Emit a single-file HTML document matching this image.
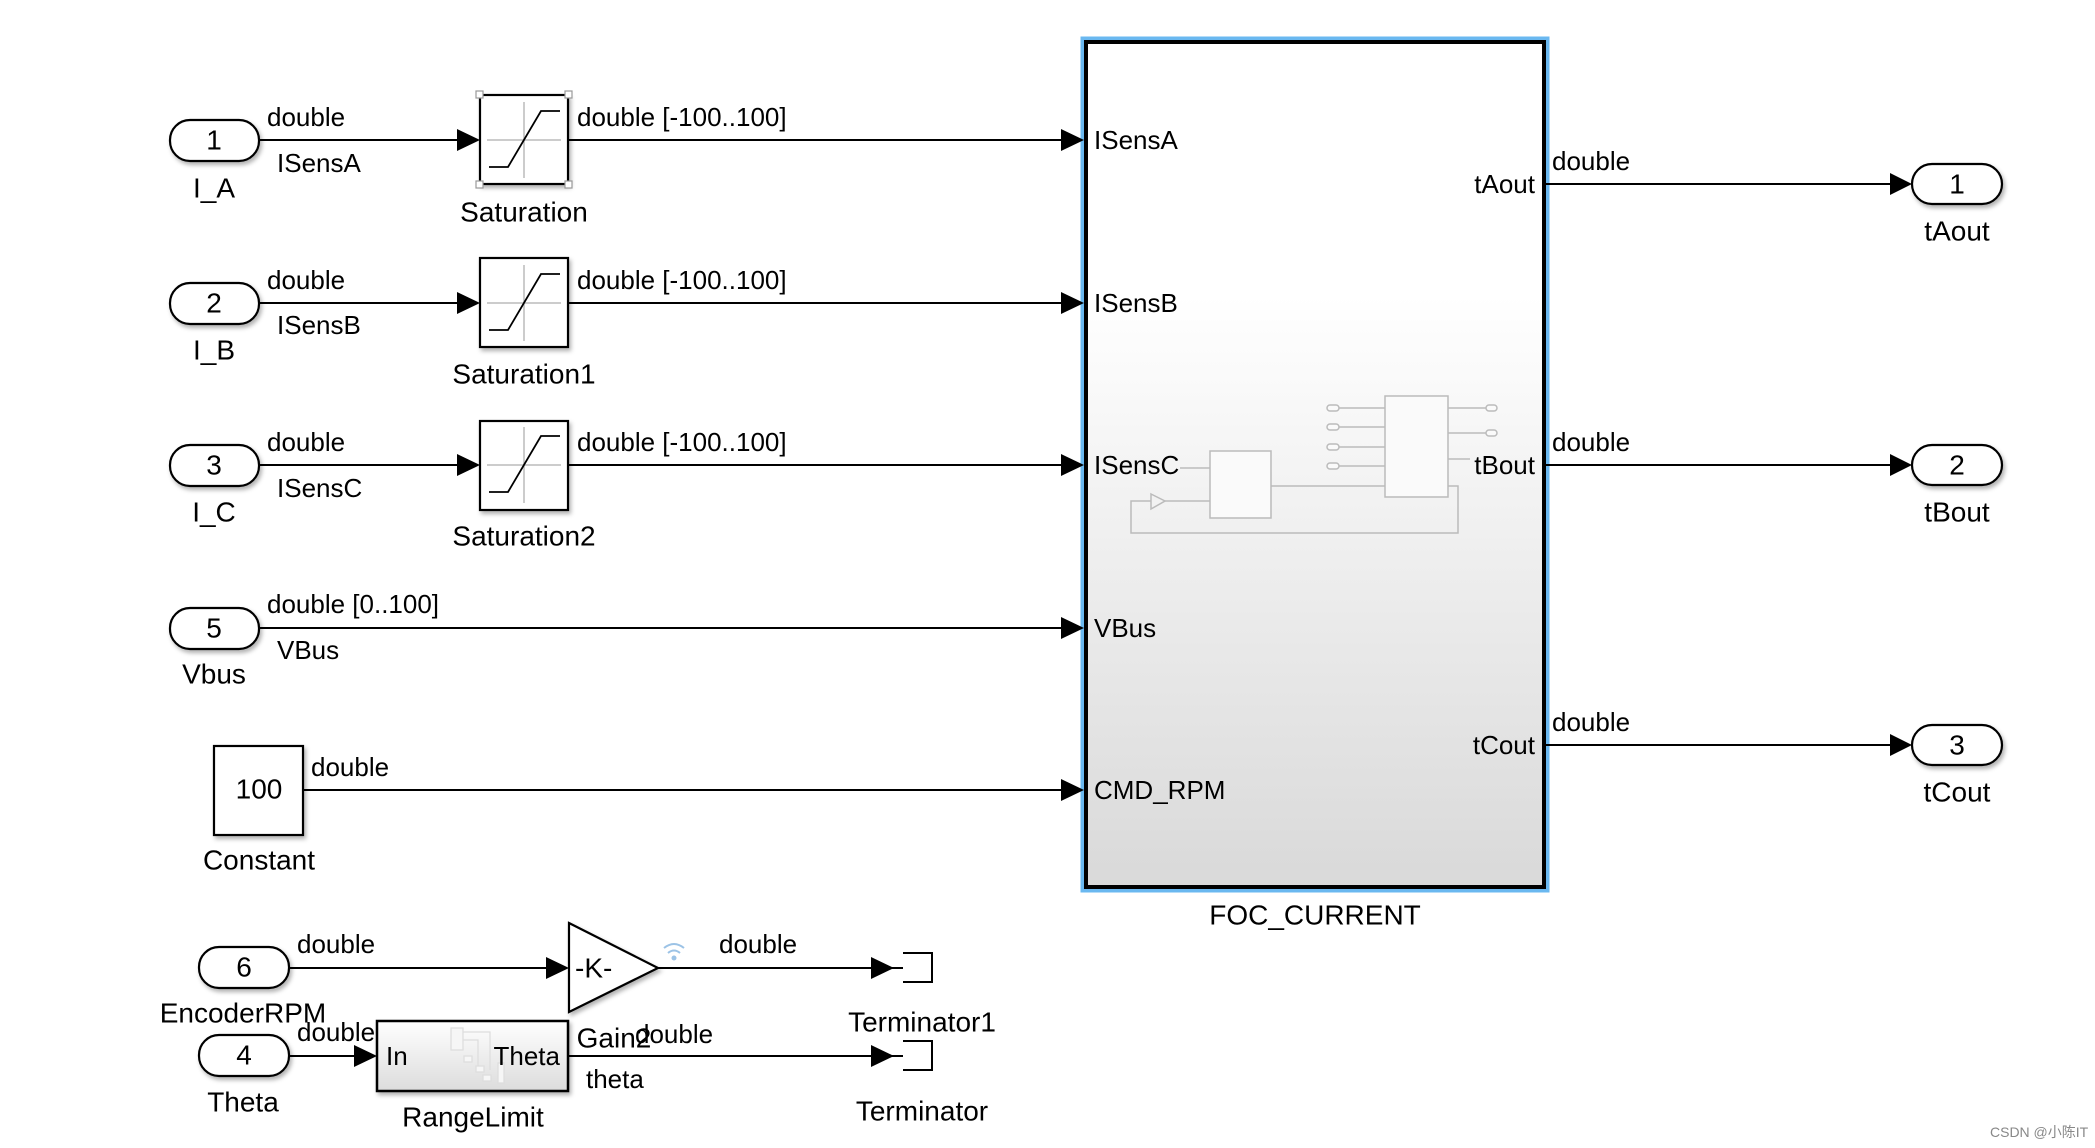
<!DOCTYPE html>
<html><head><meta charset="utf-8"><style>
html,body{margin:0;padding:0;background:#fff;}
svg{display:block;}
text{font-family:"Liberation Sans",Arial,sans-serif;fill:#000;}
.s{font-size:26px;}
.b{font-size:28px;}
</style></head><body>
<svg width="2095" height="1148" viewBox="0 0 2095 1148" xmlns="http://www.w3.org/2000/svg">
<defs>
<linearGradient id="foc" x1="0" y1="0" x2="0" y2="1">
<stop offset="0" stop-color="#ffffff"/>
<stop offset="0.3" stop-color="#ffffff"/>
<stop offset="1" stop-color="#d9d9d9"/>
</linearGradient>
<linearGradient id="rl" x1="0" y1="0" x2="0" y2="1">
<stop offset="0" stop-color="#ffffff"/>
<stop offset="1" stop-color="#dcdcdc"/>
</linearGradient>
<filter id="sh" x="-10%" y="-10%" width="130%" height="140%"><feDropShadow dx="2" dy="3" stdDeviation="2" flood-color="#000" flood-opacity="0.3"/></filter>
</defs>

<rect x="1083" y="39" width="464" height="851" fill="none" stroke="#6ab8f0" stroke-width="5"/>
<rect x="1086" y="42" width="458" height="845" fill="url(#foc)" stroke="#000" stroke-width="4"/>
<g stroke="#bbb" stroke-width="1.5" fill="#fafafa">
<rect x="1210" y="451" width="61" height="67"/>
<rect x="1385" y="396" width="63" height="101"/>
<polyline points="1448,486 1458,486 1458,533 1131,533 1131,501 1151,501" fill="none"/>
<polygon points="1151,494 1165,501 1151,509" fill="none"/>
<line x1="1165" y1="501" x2="1210" y2="501"/>
<line x1="1180" y1="468" x2="1210" y2="468"/>
<line x1="1271" y1="486" x2="1385" y2="486"/>
<line x1="1339" y1="408" x2="1385" y2="408"/><rect x="1327" y="405" width="12" height="6" rx="3"/>
<line x1="1339" y1="427" x2="1385" y2="427"/><rect x="1327" y="424" width="12" height="6" rx="3"/>
<line x1="1339" y1="447" x2="1385" y2="447"/><rect x="1327" y="444" width="12" height="6" rx="3"/>
<line x1="1339" y1="466" x2="1385" y2="466"/><rect x="1327" y="463" width="12" height="6" rx="3"/>
<line x1="1448" y1="408" x2="1486" y2="408"/><rect x="1486" y="405" width="11" height="6" rx="3"/>
<line x1="1448" y1="433" x2="1486" y2="433"/><rect x="1486" y="430" width="11" height="6" rx="3"/>
<line x1="1448" y1="459" x2="1470" y2="459"/>
</g>
<text class="s" x="1094" y="140" dominant-baseline="central">ISensA</text>
<text class="s" x="1094" y="303" dominant-baseline="central">ISensB</text>
<text class="s" x="1094" y="465" dominant-baseline="central">ISensC</text>
<text class="s" x="1094" y="628" dominant-baseline="central">VBus</text>
<text class="s" x="1094" y="790" dominant-baseline="central">CMD_RPM</text>
<text class="s" x="1535" y="184" dominant-baseline="central" text-anchor="end">tAout</text>
<text class="s" x="1535" y="465" dominant-baseline="central" text-anchor="end">tBout</text>
<text class="s" x="1535" y="745" dominant-baseline="central" text-anchor="end">tCout</text>
<text class="b" x="1315" y="915" dominant-baseline="central" text-anchor="middle">FOC_CURRENT</text>

<g stroke="#000" stroke-width="2" fill="none">
<line x1="259" y1="140" x2="462" y2="140"/>
<line x1="259" y1="303" x2="462" y2="303"/>
<line x1="259" y1="465" x2="462" y2="465"/>
<line x1="568" y1="140" x2="1065" y2="140"/>
<line x1="568" y1="303" x2="1065" y2="303"/>
<line x1="568" y1="465" x2="1065" y2="465"/>
<line x1="259" y1="628" x2="1065" y2="628"/>
<line x1="303" y1="790" x2="1065" y2="790"/>
<line x1="1546" y1="184" x2="1895" y2="184"/>
<line x1="1546" y1="465" x2="1895" y2="465"/>
<line x1="1546" y1="745" x2="1895" y2="745"/>
<line x1="289" y1="968" x2="550" y2="968"/>
<line x1="658" y1="968" x2="876" y2="968"/>
<line x1="289" y1="1056" x2="359" y2="1056"/>
<line x1="569" y1="1056" x2="876" y2="1056"/>
<line x1="890" y1="968" x2="903" y2="968"/>
<line x1="890" y1="1056" x2="903" y2="1056"/>
</g>
<g fill="#000">
<polygon points="457,129 480,140 457,151"/>
<polygon points="457,292 480,303 457,314"/>
<polygon points="457,454 480,465 457,476"/>
<polygon points="1061,129 1084,140 1061,151"/>
<polygon points="1061,292 1084,303 1061,314"/>
<polygon points="1061,454 1084,465 1061,476"/>
<polygon points="1061,617 1084,628 1061,639"/>
<polygon points="1061,779 1084,790 1061,801"/>
<polygon points="1890,173 1912,184 1890,195"/>
<polygon points="1890,454 1912,465 1890,476"/>
<polygon points="1890,734 1912,745 1890,756"/>
<polygon points="546,957 569,968 546,979"/>
<polygon points="871,957 894,968 871,979"/>
<polygon points="354,1045 377,1056 354,1067"/>
<polygon points="871,1045 894,1056 871,1067"/>
</g>

<g stroke="#000" stroke-width="2.2" fill="#fff" filter="url(#sh)">
<rect x="170" y="120" width="89" height="41" rx="20"/>
<rect x="170" y="283" width="89" height="41" rx="20"/>
<rect x="170" y="445" width="89" height="41" rx="20"/>
<rect x="170" y="608" width="89" height="41" rx="20"/>
<rect x="199" y="947" width="90" height="41" rx="20"/>
<rect x="199" y="1035" width="90" height="41" rx="20"/>
<rect x="1912" y="164" width="90" height="40" rx="20"/>
<rect x="1912" y="445" width="90" height="40" rx="20"/>
<rect x="1912" y="725" width="90" height="40" rx="20"/>
<rect x="214" y="746" width="89" height="89"/>
<rect x="480" y="95" width="88" height="89"/>
<rect x="480" y="258" width="88" height="89"/>
<rect x="480" y="421" width="88" height="89"/>
</g>
<g>
<text x="214" y="140" dominant-baseline="central" text-anchor="middle" font-size="28">1</text>
<text x="214" y="303" dominant-baseline="central" text-anchor="middle" font-size="28">2</text>
<text x="214" y="465" dominant-baseline="central" text-anchor="middle" font-size="28">3</text>
<text x="214" y="628" dominant-baseline="central" text-anchor="middle" font-size="28">5</text>
<text x="244" y="967" dominant-baseline="central" text-anchor="middle" font-size="28">6</text>
<text x="244" y="1055" dominant-baseline="central" text-anchor="middle" font-size="28">4</text>
<text x="1957" y="184" dominant-baseline="central" text-anchor="middle" font-size="28">1</text>
<text x="1957" y="465" dominant-baseline="central" text-anchor="middle" font-size="28">2</text>
<text x="1957" y="745" dominant-baseline="central" text-anchor="middle" font-size="28">3</text>
<text x="259" y="789" dominant-baseline="central" text-anchor="middle" font-size="28">100</text>
</g>

<g id="sat1">
<line x1="524" y1="102" x2="524" y2="178" stroke="#bbb" stroke-width="1.5"/>
<line x1="487" y1="140" x2="561" y2="140" stroke="#bbb" stroke-width="1.5"/>
<polyline points="489,167 508,167 541,111 560,111" fill="none" stroke="#000" stroke-width="1.8"/>
</g>
<use href="#sat1" transform="translate(0,163)"/>
<use href="#sat1" transform="translate(0,325)"/>
<g fill="#fff" stroke="#999" stroke-width="1.2">
<rect x="476" y="91" width="7" height="7"/><rect x="565" y="91" width="7" height="7"/>
<rect x="476" y="181" width="7" height="7"/><rect x="565" y="181" width="7" height="7"/>
</g>

<polygon points="569,923 658,968 569,1012" fill="#fff" stroke="#000" stroke-width="2.2" filter="url(#sh)"/>
<text x="575" y="968" dominant-baseline="central" font-size="28">-K-</text>
<g stroke="#9cc3e6" stroke-width="2" fill="none">
<path d="M664,948 q10,-8 20,0"/><path d="M668,953 q6,-5 12,0"/>
</g>
<circle cx="674" cy="958" r="2.5" fill="#9cc3e6"/>

<g stroke="#000" stroke-width="2" fill="none">
<polyline points="903,953 932,953 932,982 903,982"/>
<polyline points="903,1041 932,1041 932,1070 903,1070"/>
</g>

<rect x="377" y="1021" width="191" height="70" fill="url(#rl)" stroke="#000" stroke-width="2.5" filter="url(#sh)"/>
<g stroke="#ddd" stroke-width="1.2" fill="#f6f6f6">
<rect x="451" y="1028" width="12" height="22"/><rect x="464" y="1056" width="8" height="6"/>
<rect x="476" y="1066" width="8" height="6"/><rect x="483" y="1075" width="8" height="6"/>
<rect x="498" y="1063" width="6" height="20"/>
<polyline points="463,1032 490,1032 490,1070" fill="none"/>
<polyline points="463,1040 478,1040 478,1066" fill="none"/>
</g>
<text class="s" x="386" y="1056" dominant-baseline="central">In</text>
<text class="s" x="560" y="1056" dominant-baseline="central" text-anchor="end">Theta</text>

<g class="s">
<text x="267" y="117" dominant-baseline="central">double</text>
<text x="277" y="163" dominant-baseline="central">ISensA</text>
<text x="267" y="280" dominant-baseline="central">double</text>
<text x="277" y="325" dominant-baseline="central">ISensB</text>
<text x="267" y="442" dominant-baseline="central">double</text>
<text x="277" y="488" dominant-baseline="central">ISensC</text>
<text x="577" y="117" dominant-baseline="central">double [-100..100]</text>
<text x="577" y="280" dominant-baseline="central">double [-100..100]</text>
<text x="577" y="442" dominant-baseline="central">double [-100..100]</text>
<text x="267" y="604" dominant-baseline="central">double [0..100]</text>
<text x="277" y="650" dominant-baseline="central">VBus</text>
<text x="311" y="767" dominant-baseline="central">double</text>
<text x="1552" y="161" dominant-baseline="central">double</text>
<text x="1552" y="442" dominant-baseline="central">double</text>
<text x="1552" y="722" dominant-baseline="central">double</text>
<text x="297" y="944" dominant-baseline="central">double</text>
<text x="719" y="944" dominant-baseline="central">double</text>
<text x="297" y="1032" dominant-baseline="central">double</text>
<text x="635" y="1034" dominant-baseline="central">double</text>
<text x="586" y="1079" dominant-baseline="central">theta</text>
</g>
<g class="b">
<text x="214" y="188" dominant-baseline="central" text-anchor="middle">I_A</text>
<text x="214" y="350" dominant-baseline="central" text-anchor="middle">I_B</text>
<text x="214" y="512" dominant-baseline="central" text-anchor="middle">I_C</text>
<text x="214" y="674" dominant-baseline="central" text-anchor="middle">Vbus</text>
<text x="524" y="212" dominant-baseline="central" text-anchor="middle">Saturation</text>
<text x="524" y="374" dominant-baseline="central" text-anchor="middle">Saturation1</text>
<text x="524" y="536" dominant-baseline="central" text-anchor="middle">Saturation2</text>
<text x="259" y="860" dominant-baseline="central" text-anchor="middle">Constant</text>
<text x="1957" y="231" dominant-baseline="central" text-anchor="middle">tAout</text>
<text x="1957" y="512" dominant-baseline="central" text-anchor="middle">tBout</text>
<text x="1957" y="792" dominant-baseline="central" text-anchor="middle">tCout</text>
<text x="243" y="1013" dominant-baseline="central" text-anchor="middle">EncoderRPM</text>
<text x="243" y="1102" dominant-baseline="central" text-anchor="middle">Theta</text>
<text x="614" y="1038" dominant-baseline="central" text-anchor="middle">Gain2</text>
<text x="922" y="1022" dominant-baseline="central" text-anchor="middle">Terminator1</text>
<text x="922" y="1111" dominant-baseline="central" text-anchor="middle">Terminator</text>
<text x="473" y="1117" dominant-baseline="central" text-anchor="middle">RangeLimit</text>
</g>
<text x="1990" y="1132" font-size="14" style="font-family:'Liberation Sans','Noto Sans CJK SC',sans-serif;fill:#888" dominant-baseline="central">CSDN @小陈IT</text>
</svg>
</body></html>
